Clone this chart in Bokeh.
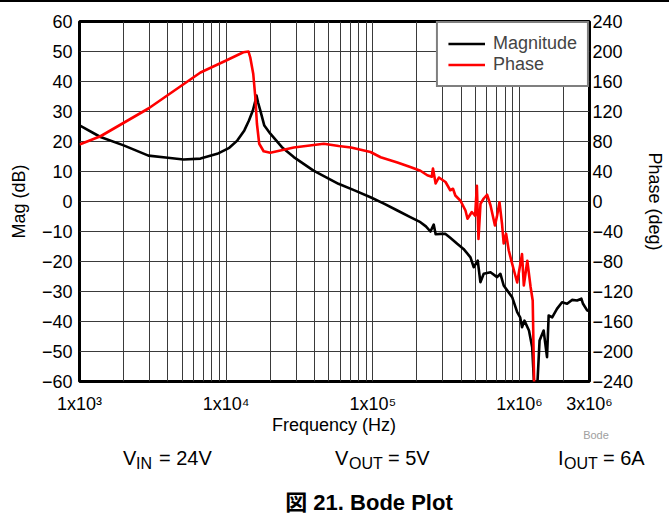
from bokeh.plotting import figure
from bokeh.models import Range1d, LinearAxis, FixedTicker, Div
from bokeh.layouts import column
from bokeh.embed import file_html
from bokeh.resources import INLINE

# ---------------- data ----------------
mag_freq = [1.0e3, 1.39e3, 2.0e3, 2.95e3, 4.0e3, 5.12e3, 6.68e3, 8.69e3, 1.05e4, 1.19e4,
            1.33e4, 1.43e4, 1.52e4, 1.58e4, 1.61e4, 1.65e4, 1.71e4, 1.82e4, 2.0e4, 2.4e4,
            2.89e4, 3.94e4, 5.83e4, 7.5e4, 9.64e4, 1.2e5, 1.47e5, 1.8e5, 2.11e5, 2.3e5,
            2.47e5, 2.6e5, 2.68e5, 2.9e5, 3.13e5, 3.37e5, 3.76e5, 4.15e5, 4.63e5, 4.87e5,
            5.19e5, 5.41e5, 5.70e5, 6.34e5, 7.03e5, 7.41e5, 7.80e5, 8.91e5, 9.64e5, 1.01e6,
            1.04e6, 1.08e6, 1.16e6, 1.22e6, 1.26e6, 1.32e6, 1.37e6, 1.46e6, 1.54e6, 1.58e6,
            1.67e6, 1.80e6, 1.95e6, 2.11e6, 2.28e6, 2.47e6, 2.64e6, 2.71e6, 2.89e6, 3.0e6]
mag_db = [25.4, 21.5, 18.7, 15.3, 14.6, 14.0, 14.3, 15.9, 17.9, 20.3,
          23.7, 27.0, 30.3, 33.5, 35.3, 33.0, 30.3, 25.3, 22.6, 18.1,
          14.8, 10.3, 5.9, 3.7, 1.4, -0.8, -3.0, -5.2, -6.9, -8.3,
          -10.0, -7.7, -10.9, -10.8, -10.8, -12.1, -14.1, -15.8, -18.6, -21.9,
          -19.7, -26.9, -24.1, -23.6, -25.2, -24.1, -28.0, -31.9, -36.9, -38.6,
          -41.9, -39.7, -43.0, -48.6, -62.0, -62.0, -46.3, -43.0, -51.9, -38.0,
          -38.6, -35.8, -33.6, -34.1, -32.8, -33.0, -32.4, -34.1, -36.3, -36.5]

phase_freq = [1.0e3, 1.39e3, 2.95e3, 6.68e3, 1.0e4, 1.31e4, 1.42e4, 1.46e4, 1.53e4, 1.58e4,
              1.62e4, 1.68e4, 1.8e4, 2.0e4, 2.89e4, 4.63e4, 5.85e4, 7.1e4, 9.64e4, 1.13e5,
              1.47e5, 1.8e5, 2.11e5, 2.35e5, 2.52e5, 2.57e5, 2.68e5, 2.82e5, 3.13e5, 3.37e5,
              3.52e5, 3.65e5, 3.96e5, 4.28e5, 4.42e5, 4.73e5, 4.98e5, 5.12e5, 5.25e5, 5.42e5,
              5.70e5, 6.01e5, 6.34e5, 6.8e5, 7.03e5, 7.3e5, 7.6e5, 7.8e5, 8.1e5, 8.44e5,
              8.91e5, 9.64e5, 1.04e6, 1.07e6, 1.13e6, 1.19e6, 1.23e6, 1.26e6]
phase_deg = [76, 87, 124, 172, 188, 199, 200, 192, 170, 139,
             104, 77, 67, 65, 72, 77, 74, 72, 66, 59,
             52, 46, 41, 35, 33, 44, 24, 32, 26, 15,
             17, 8, 1, -12, -23, -14, -19, 21, -50, -3,
             4, 9, -5, -32, -19, -1, -30, -56, -43, -65,
             -83, -108, -70, -112, -79, -114, -132, -250]

x_ticks = [1e3, 1e4, 1e5, 1e6, 3e6]
x_tick_labels = ["1x10\u00b3", "1x10\u2074", "1x10\u2075", "1x10\u2076", "3x10\u2076"]
mag_ticks = list(range(-60, 61, 10))
phase_ticks = list(range(-240, 241, 40))
grid_freqs = [k * 10 ** n for n in range(3, 7) for k in range(1, 10) if k * 10 ** n <= 3e6]

x_title = "Frequency (Hz)"
conditions = [("V", "IN", "= 24V"), ("V", "OUT", "= 5V"), ("I", "OUT", "= 6A")]
caption = "図 21. Bode Plot"
source_tag = "Bode"

FONT = "Liberation Sans"
TICK_SIZE = "18px"

# ---------------- main plot ----------------
PLOT_H = 414
p = figure(width=669, height=PLOT_H, x_axis_type="log", x_range=(1e3, 3e6), y_range=(-60, 60),
           output_backend="svg", toolbar_location=None,
           min_border_left=79, min_border_right=80, min_border_top=19, min_border_bottom=35)
p.background_fill_color = "white"
p.border_fill_color = "white"
p.outline_line_color = "black"
p.outline_line_width = 3

p.xgrid.ticker = FixedTicker(ticks=grid_freqs)
p.ygrid.ticker = FixedTicker(ticks=mag_ticks)
for g in (p.xgrid, p.ygrid):
    g.grid_line_color = "#3a3a3a"
    g.grid_line_width = 1

xax = p.xaxis[0]
xax.ticker = FixedTicker(ticks=x_ticks)
xax.major_label_overrides = {float(t): s for t, s in zip(x_ticks, x_tick_labels)}

yax = p.yaxis[0]
yax.ticker = FixedTicker(ticks=mag_ticks)
yax.axis_label = "Mag (dB)"

p.extra_y_ranges = {"phase": Range1d(-240, 240)}
rax = LinearAxis(y_range_name="phase", ticker=FixedTicker(ticks=phase_ticks), axis_label="Phase (deg)")
p.add_layout(rax, "right")

for ax in (xax, yax, rax):
    ax.axis_line_color = None
    ax.major_tick_line_color = None
    ax.minor_tick_line_color = None
    ax.major_tick_out = 0
    ax.major_tick_in = 0
    ax.minor_tick_out = 0
    ax.minor_tick_in = 0
    ax.major_label_text_font = FONT
    ax.major_label_text_font_size = TICK_SIZE
    ax.major_label_text_color = "black"
    ax.axis_label_text_font = FONT
    ax.axis_label_text_font_size = TICK_SIZE
    ax.axis_label_text_font_style = "normal"
    ax.axis_label_text_color = "black"
xax.major_label_standoff = 12
yax.major_label_standoff = 7
yax.axis_label_standoff = 10
rax.major_label_standoff = 3
rax.axis_label_standoff = 9

p.line(mag_freq, mag_db, line_color="black", line_width=2.6, line_join="round",
       legend_label="Magnitude")
p.line(phase_freq, phase_deg, line_color="#ff0000", line_width=2.6, line_join="round",
       y_range_name="phase", legend_label="Phase")

lg = p.legend[0]
lg.location = "top_right"
lg.margin = 0
lg.padding = 10
lg.spacing = 0
lg.border_line_color = "black"
lg.border_line_width = 2
lg.background_fill_color = "white"
lg.background_fill_alpha = 1
lg.label_text_font = FONT
lg.label_text_font_size = TICK_SIZE
lg.glyph_width = 37
lg.glyph_height = 21
lg.label_height = 21
lg.label_standoff = 8

# ---------------- caption block (HTML text, page pixel layout) ----------------
TOP = 2 + PLOT_H          # page y where this block starts
ASC = 0.8465              # baseline position within a line-height:1 box (Liberation Sans)


def span(text, left, baseline, size, center=False, color="black", weight="normal"):
    top = baseline - TOP - ASC * size
    tr = "transform:translateX(-50%);" if center else ""
    return (f'<span style="position:absolute;left:{left}px;top:{top:.1f}px;font-size:{size}px;'
            f'line-height:1;white-space:nowrap;color:{color};font-weight:{weight};{tr}">{text}</span>')


parts = [span(x_title, 334, 431, 18, center=True),
         span(source_tag, 596, 439, 11, center=True, color="#a0a0a0")]
cond_x = [(123, 136, 159), (335, 349, 388), (558, 564, 603)]
for (main, sub, rest), (x1, x2, x3) in zip(conditions, cond_x):
    parts.append(span(main, x1, 465, 20))
    parts.append(span(sub, x2, 469, 16))
    parts.append(span(rest, x3, 465, 20))
parts.append(span(caption, 369, 511, 22, center=True, weight="bold"))

html = ('<div style="position:relative;width:669px;height:%dpx;overflow:visible;'
        'font-family:\'Liberation Sans\',\'Noto Sans CJK JP\',sans-serif;">' % (529 - TOP)
        + "".join(parts) + "</div>")
cap = Div(text=html, width=669, height=529 - TOP, margin=(0, 0, 0, 0))

top_rule = Div(text="", width=669, height=2, margin=(0, 0, 0, 0),
               styles={"background-color": "black"})
layout = column(top_rule, p, cap, spacing=0)

open("out.html", "w").write(file_html(layout, INLINE))
